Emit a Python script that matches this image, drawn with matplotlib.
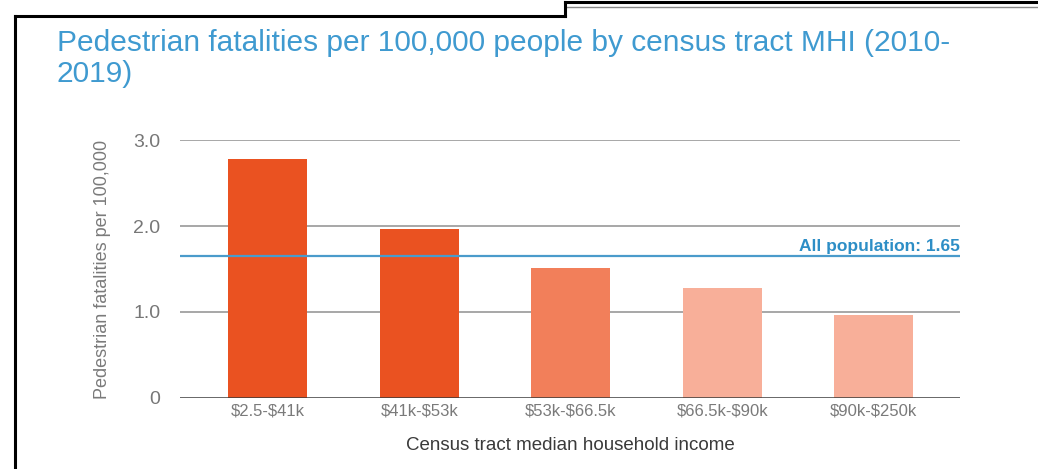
import matplotlib.pyplot as plt
from matplotlib.lines import Line2D
import numpy as np

plt.rcParams['font.family'] = ['Liberation Sans', 'DejaVu Sans']
plt.rcParams['text.parse_math'] = False

# fatalities per 100,000 by census tract median household income
income_bins = ['$2.5-$41k', '$41k-$53k', '$53k-$66.5k', '$66.5k-$90k', '$90k-$250k']
fatality_rate = [2.78, 1.97, 1.51, 1.28, 0.97]
all_population = 1.65
bar_colors = ['#EA5221', '#EA5221', '#F27F5A', '#F8AF99', '#F8AF99']

W, H = 1038, 469
fig = plt.figure(figsize=(W / 100, H / 100), dpi=100)

# plot area in pixel terms
left, right, bottom, top = 180, 960, 398, 140
ax = fig.add_axes([left / W, 1 - bottom / H, (right - left) / W, (bottom - top) / H])

x = np.arange(len(income_bins))
ax.bar(x, fatality_rate, width=0.52, color=bar_colors, zorder=2)
ax.set_xlim(-0.58, len(income_bins) - 1 + 0.57)
ax.set_ylim(0, 3.0)

for y in [1.0, 2.0, 3.0]:
    ax.axhline(y, color='#8f8f8f', lw=1.1, zorder=1)
ax.axhline(0, color='#3a3a3a', lw=1.8, zorder=3)

# overall population reference line
ax.axhline(all_population, color='#4A9BCB', lw=1.6, zorder=4)
ax.text(len(income_bins) - 1 + 0.57, all_population + 0.025, 'All population: %.2f' % all_population,
        ha='right', va='bottom', color='#2D8EC6', fontsize=12.5, fontweight='bold')

for s in ax.spines.values():
    s.set_visible(False)
ax.tick_params(length=0)
ax.set_yticks([0, 1.0, 2.0, 3.0])
ax.set_yticklabels(['0', '1.0', '2.0', '3.0'], fontsize=14, color='#777777')
ax.tick_params(axis='y', pad=14)
ax.set_xticks(x)
ax.set_xticklabels(income_bins, fontsize=12, color='#7a7a7a')
ax.tick_params(axis='x', pad=4)

ax.set_xlabel('Census tract median household income', fontsize=13.5, color='#3a3a3a', labelpad=13)
ax.set_ylabel('Pedestrian fatalities per 100,000', fontsize=13, color='#7a7a7a', labelpad=16)

fig.text(57 / W, 1 - 29 / H, 'Pedestrian fatalities per 100,000 people by census tract MHI (2010-\n2019)',
         ha='left', va='top', fontsize=21.5, color='#3F9AD0', linespacing=1.15)

# page frame lines
step = 565
fig.add_artist(Line2D([15 / W, 15 / W], [0, 1 - 16 / H], color='black', lw=2.2))
fig.add_artist(Line2D([15 / W, step / W], [1 - 16 / H, 1 - 16 / H], color='black', lw=2.2))
fig.add_artist(Line2D([step / W, 1], [1 - 2.5 / H, 1 - 2.5 / H], color='black', lw=2.2))
fig.add_artist(Line2D([step / W, 1], [1 - 7 / H, 1 - 7 / H], color='#888888', lw=1.0))
fig.add_artist(Line2D([step / W, step / W], [1 - 2.5 / H, 1 - 16 / H], color='black', lw=2.2))

fig.savefig('out.png', dpi=100)
